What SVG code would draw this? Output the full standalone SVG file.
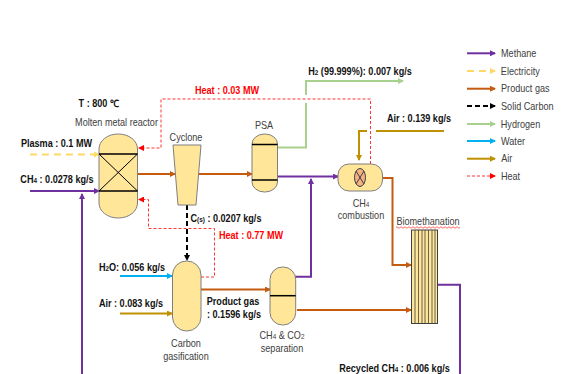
<svg xmlns="http://www.w3.org/2000/svg" width="563" height="374" viewBox="0 0 563 374">
<style>
text{font-family:"Liberation Sans",Arial,sans-serif;font-size:10px;fill:#404040;text-anchor:middle;transform-box:fill-box;transform-origin:center;transform:scaleX(.91)}
.b{font-weight:bold;fill:#111}
.r{font-weight:bold;fill:#f00}
.s{font-size:7px}
.v{fill:#ffe699;stroke:#7f7f7f;stroke-width:1}
.k{stroke:#000;stroke-width:1.500;fill:none}
.c{fill:none}
.me{stroke:#7030a0;stroke-width:2}
.el{stroke:#ffd966;stroke-width:2;stroke-dasharray:7 5}
.pg{stroke:#c55a11;stroke-width:2}
.sc{stroke:#000;stroke-width:2;stroke-dasharray:5 3}
.hy{stroke:#a9d18e;stroke-width:2}
.wa{stroke:#00b0f0;stroke-width:2}
.ai{stroke:#bf9000;stroke-width:2}
.he{stroke:#f00;stroke-width:.8;stroke-dasharray:3 2}
</style>
<defs>
<marker id="a-me" markerWidth="6" markerHeight="6" refX="5" refY="3" orient="auto" markerUnits="userSpaceOnUse"><path d="M0 0L6 3L0 6z" fill="#7030a0"/></marker>
<marker id="a-el" markerWidth="6" markerHeight="6" refX="5" refY="3" orient="auto" markerUnits="userSpaceOnUse"><path d="M0 0L6 3L0 6z" fill="#ffd966"/></marker>
<marker id="a-pg" markerWidth="6" markerHeight="6" refX="5" refY="3" orient="auto" markerUnits="userSpaceOnUse"><path d="M0 0L6 3L0 6z" fill="#c55a11"/></marker>
<marker id="a-sc" markerWidth="6" markerHeight="6" refX="5" refY="3" orient="auto" markerUnits="userSpaceOnUse"><path d="M0 0L6 3L0 6z" fill="#000"/></marker>
<marker id="a-hy" markerWidth="6" markerHeight="6" refX="5" refY="3" orient="auto" markerUnits="userSpaceOnUse"><path d="M0 0L6 3L0 6z" fill="#a9d18e"/></marker>
<marker id="a-wa" markerWidth="6" markerHeight="6" refX="5" refY="3" orient="auto" markerUnits="userSpaceOnUse"><path d="M0 0L6 3L0 6z" fill="#00b0f0"/></marker>
<marker id="a-ai" markerWidth="6" markerHeight="6" refX="5" refY="3" orient="auto" markerUnits="userSpaceOnUse"><path d="M0 0L6 3L0 6z" fill="#bf9000"/></marker>
<marker id="a-he" markerWidth="6" markerHeight="6" refX="5" refY="3" orient="auto" markerUnits="userSpaceOnUse"><path d="M0 0L6 3L0 6z" fill="#f00"/></marker>
</defs>
<g id="connectors" fill="none">
<path class="c el" d="M30 154.500H99" marker-end="url(#a-el)"/>
<path class="c me" d="M30 191H99" marker-end="url(#a-me)"/>
<path class="c me" d="M82 374V194" marker-end="url(#a-me)"/>
<path class="c pg" d="M137 174H175" marker-end="url(#a-pg)"/>
<path class="c pg" d="M199 174H252" marker-end="url(#a-pg)"/>
<path class="c hy" d="M277 147.500H306V103M306 95V81H403" marker-end="url(#a-hy)"/>
<path class="c me" d="M277 176.500H338" marker-end="url(#a-me)"/>
<path class="c me" d="M295 276.700H311V179" marker-end="url(#a-me)"/>
<path class="c he" d="M370.500 164V99H161V148H139" marker-end="url(#a-he)"/>
<path class="c he" d="M201 277H214.500V228.500H148.500V199.500H139" marker-end="url(#a-he)"/>
<path class="c sc" d="M187 205V260" marker-end="url(#a-sc)"/>
<path class="c wa" d="M120 276H172" marker-end="url(#a-wa)"/>
<path class="c ai" d="M120 313.500H172" marker-end="url(#a-ai)"/>
<path class="c pg" d="M201 289.500H270" marker-end="url(#a-pg)"/>
<path class="c pg" d="M297 310H411" marker-end="url(#a-pg)"/>
<path class="c ai" d="M444 131H376M367 131H359V160" marker-end="url(#a-ai)"/>
<path class="c pg" d="M382 178H392.500V265H411" marker-end="url(#a-pg)"/>
<path class="c me" d="M438 284.700H460V374"/>
</g>
<g id="molten-metal-reactor">
<rect class="v" x="99" y="134" width="38.500" height="84" rx="19" ry="15"/>
<path class="k" d="M99 154H137.500M99 191H137.500"/>
<path d="M99 154L137.500 191M137.500 154L99 191" stroke="#000" stroke-width="1" fill="none"/>
<text x="116.500" y="126">Molten metal reactor</text>
<text class="b" x="99" y="107">T : 800 ℃</text>
</g>
<g id="cyclone">
<path class="v" d="M173 145H201L196 205H178z"/>
<text x="186" y="141">Cyclone</text>
</g>
<g id="psa">
<rect class="v" x="252" y="134" width="25.500" height="58" rx="12.500" ry="10"/>
<path class="k" d="M252 144.500H277.500M252 180H277.500"/>
<text x="264" y="129">PSA</text>
</g>
<g id="ch4-combustion">
<rect class="v" x="338" y="164" width="44.500" height="27" rx="11" ry="11"/>
<ellipse cx="360" cy="177.500" rx="5.500" ry="9" fill="#f4b183" stroke="#404040" stroke-width="1"/>
<path d="M356 171L364 184M364 171L356 184" stroke="#404040" stroke-width="1"/>
<text x="361" y="207">CH<tspan class="s">4</tspan></text>
<text x="361" y="219">combustion</text>
</g>
<g id="carbon-gasification">
<rect class="v" x="172.500" y="261" width="28.500" height="70" rx="14" ry="14"/>
<text x="186" y="347">Carbon</text>
<text x="186" y="360">gasification</text>
</g>
<g id="separation">
<rect class="v" x="270" y="267" width="25.700" height="58" rx="12.500" ry="12.500"/>
<path class="k" d="M270 295.700H295.700"/>
<text x="282" y="339">CH<tspan class="s">4</tspan> &amp; CO<tspan class="s">2</tspan></text>
<text x="282" y="352">separation</text>
</g>
<g id="biomethanation">
<rect x="411.500" y="230" width="26" height="93.500" fill="#ffe699" stroke="#404040" stroke-width="1"/>
<path d="M415 230V323.500M418.500 230V323.500M422 230V323.500M425 230V323.500M428.500 230V323.500M432 230V323.500M435 230V323.500" stroke="#404040" stroke-width=".8"/>
<text x="428" y="225">Biomethanation</text>
<path d="M396 227.500q1-1.500 2 0t2 0t2 0t2 0t2 0t2 0t2 0t2 0t2 0t2 0t2 0t2 0t2 0t2 0t2 0t2 0t2 0t2 0t2 0t2 0t2 0t2 0t2 0t2 0t2 0t2 0t2 0t2 0t2 0t2 0t2 0t2 0" fill="none" stroke="#f00" stroke-width=".6"/>
</g>
<g id="labels">
<text class="r" x="227" y="94">Heat : 0.03 MW</text>
<text class="b" x="360" y="75">H<tspan class="s">2</tspan> (99.999%): 0.007 kg/s</text>
<text class="b" x="419" y="122">Air : 0.139 kg/s</text>
<text class="b" x="56.500" y="147">Plasma : 0.1 MW</text>
<text class="b" x="57" y="183">CH<tspan class="s">4</tspan> : 0.0278 kg/s</text>
<text class="b" x="226" y="222">C<tspan class="s">(s)</tspan> : 0.0207 kg/s</text>
<text class="r" x="251" y="239">Heat : 0.77 MW</text>
<text class="b" x="132" y="271">H<tspan class="s">2</tspan>O: 0.056 kg/s</text>
<text class="b" x="131" y="307">Air : 0.083 kg/s</text>
<text class="b" x="233" y="305">Product gas</text>
<text class="b" x="234" y="318">: 0.1596 kg/s</text>
<text class="b" x="394.500" y="372">Recycled CH<tspan class="s">4</tspan> : 0.006 kg/s</text>
</g>
<g id="legend">
<path class="c me" d="M467 53.300H495" marker-end="url(#a-me)"/><text x="518.700" y="57">Methane</text>
<path class="c el" d="M467 71H495" marker-end="url(#a-el)"/><text x="520.300" y="75">Electricity</text>
<path class="c pg" d="M467 88.700H495" marker-end="url(#a-pg)"/><text x="525.300" y="92">Product gas</text>
<path class="c sc" d="M467 106H495" marker-end="url(#a-sc)"/><text x="527.300" y="110">Solid Carbon</text>
<path class="c hy" d="M467 124H495" marker-end="url(#a-hy)"/><text x="520.500" y="128">Hydrogen</text>
<path class="c wa" d="M467 141H495" marker-end="url(#a-wa)"/><text x="513" y="145">Water</text>
<path class="c ai" d="M467 158.700H495" marker-end="url(#a-ai)"/><text x="506.700" y="162">Air</text>
<path class="c he" d="M467 176H495" marker-end="url(#a-he)"/><text x="510.500" y="180">Heat</text>
</g>
</svg>
